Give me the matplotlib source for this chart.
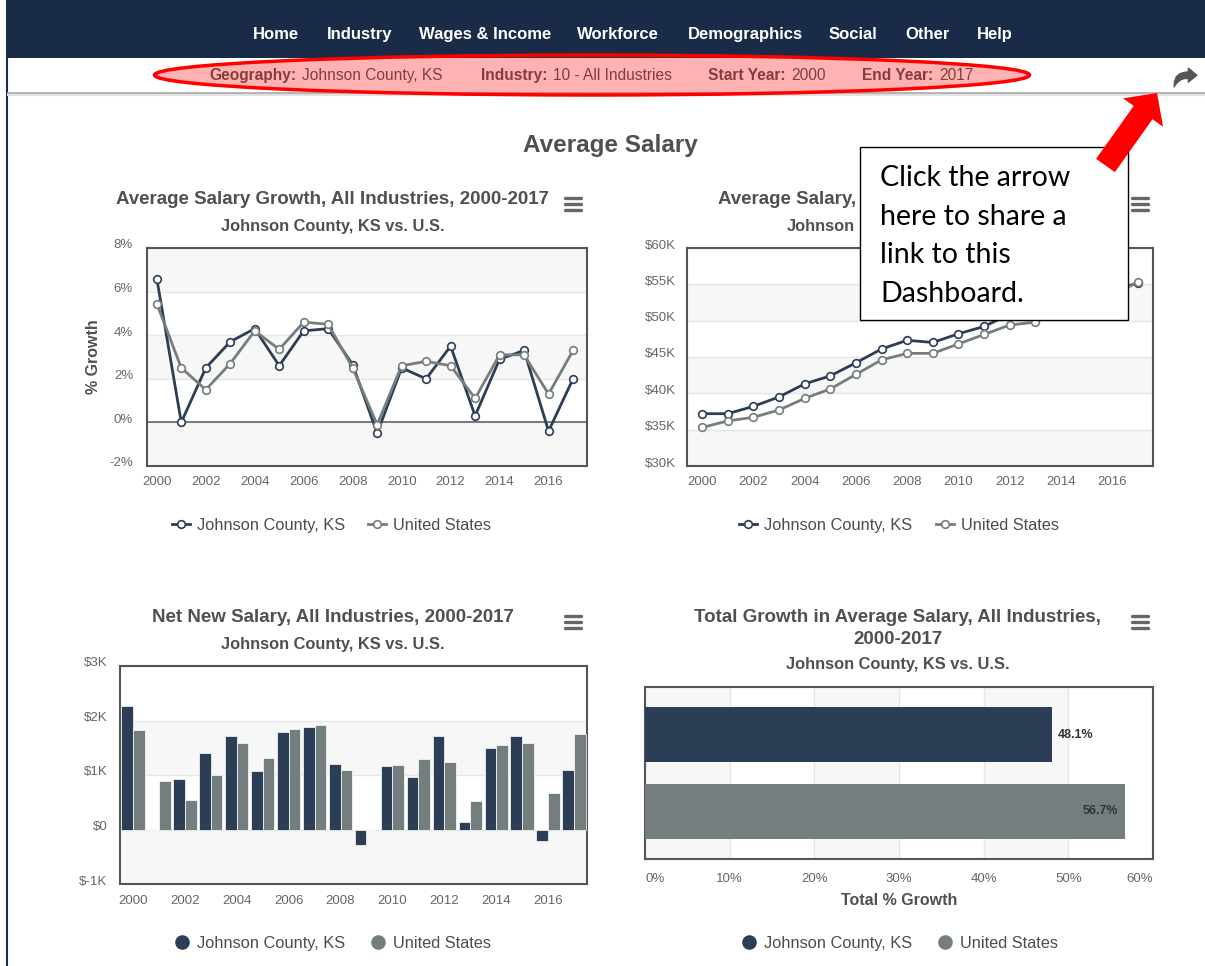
import matplotlib
matplotlib.use("Agg")
import matplotlib.pyplot as plt
import matplotlib.transforms as mtransforms
from matplotlib.lines import Line2D
from matplotlib.patches import Rectangle, Ellipse, FancyArrow, Polygon

plt.rcParams["font.family"] = ["Liberation Sans", "DejaVu Sans"]

W, H = 1205, 966

# ---- data ----
YEARS = list(range(2000, 2018))
GROWTH_JC = [6.6, 0.0, 2.5, 3.7, 4.3, 2.6, 4.2, 4.3, 2.65, -0.5, 2.5, 2.0, 3.5, 0.3, 2.9, 3.3, -0.4, 2.0]
GROWTH_US = [5.45, 2.5, 1.5, 2.7, 4.2, 3.35, 4.6, 4.5, 2.5, -0.1, 2.6, 2.8, 2.6, 1.1, 3.1, 3.1, 1.3, 3.3]
SALARY_JC = [37.2, 37.2, 38.2, 39.5, 41.3, 42.4, 44.2, 46.1, 47.3, 47.0, 48.2, 49.2, 50.9, 51.1, 52.6, 54.3, 54.1, 55.2]
SALARY_US = [35.3, 36.2, 36.7, 37.7, 39.3, 40.6, 42.6, 44.6, 45.5, 45.5, 46.8, 48.1, 49.4, 49.8, 51.3, 52.9, 53.6, 55.3]
NET_JC = [2.27, 0.0, 0.93, 1.40, 1.71, 1.08, 1.79, 1.88, 1.21, -0.28, 1.16, 0.97, 1.72, 0.13, 1.49, 1.72, -0.21, 1.10]
NET_US = [1.83, 0.89, 0.54, 1.00, 1.58, 1.31, 1.85, 1.92, 1.10, 0.0, 1.19, 1.30, 1.24, 0.53, 1.55, 1.58, 0.67, 1.75]
SERIES = ["Johnson County, KS", "United States"]
TOTAL_GROWTH = [48.1, 56.7]

NAV_ITEMS = ["Home", "Industry", "Wages & Income", "Workforce", "Demographics", "Social", "Other", "Help"]
FILTERS = [("Geography:", "Johnson County, KS"), ("Industry:", "10 - All Industries"),
           ("Start Year:", "2000"), ("End Year:", "2017")]
SUBTITLE = "Johnson County, KS vs. U.S."

C_JC = "#2c3e56"
C_US = "#757e7e"
BAND = "#f7f7f7"
GRID = "#e6e6e6"
TXT = "#505050"
TICK = "#666666"

# outline of the share icon, unit square (y down)
SHARE_ICON = [(1.0, 0.38), (0.62, 0.0), (0.62, 0.2), (0.45, 0.22), (0.25, 0.3), (0.1, 0.45),
              (0.02, 0.7), (0.0, 1.0), (0.12, 0.8), (0.3, 0.62), (0.45, 0.56), (0.62, 0.56), (0.62, 0.76)]


def _box(x0, y0, x1, y1):
    return [x0 / W, 1 - y1 / H, (x1 - x0) / W, (y1 - y0) / H]


def _frame(ax):
    for s in ax.spines.values():
        s.set_color("#555555")
        s.set_linewidth(1.5)
    ax.tick_params(length=0, labelsize=9.5, labelcolor=TICK)
    ax.set_axisbelow(True)


def _bands(ax, edges, vertical=False):
    # alternate grey / white bands, grey first
    for i in range(0, len(edges) - 1, 2):
        if vertical:
            ax.axvspan(edges[i], edges[i + 1], color=BAND, lw=0, zorder=0)
        else:
            ax.axhspan(edges[i], edges[i + 1], color=BAND, lw=0, zorder=0)


def _lift_ylabels(fig, ax):
    # highcharts puts y labels a little above their grid line (call after setting pad)
    off = mtransforms.ScaledTranslation(0, 0.04, fig.dpi_scale_trans)
    for lab in ax.get_yticklabels():
        lab.set_transform(lab.get_transform() + off)


def _hamburger(ov, x, y):
    for dy in (-6, 0, 6):
        ov.plot([x - 8, x + 8], [y + dy, y + dy], color="#666666", lw=2.4, solid_capstyle="round")


def _legend_line(ov, x, y, color, label):
    ov.add_line(Line2D([x - 9, x + 9], [y, y], color=color, lw=2))
    ov.plot([x], [y], marker="o", ms=5.5, mfc="white", mec=color, mew=1.2)
    ov.text(x + 16, y, label, fontsize=11.8, color="#4d4d4d", va="center_baseline", ha="left")


def _legend_dot(ov, x, y, color, label):
    ov.plot([x], [y], marker="o", ms=10.5, color=color, mew=0)
    ov.text(x + 15, y, label, fontsize=11.8, color="#4d4d4d", va="center_baseline", ha="left")


def _titles(ov, cx, lines, sub_y):
    for text, y in lines:
        ov.text(cx, y, text, fontsize=13.5, fontweight="bold", color=TXT, ha="center", va="center_baseline")
    ov.text(cx, sub_y, SUBTITLE, fontsize=11.8, fontweight="bold", color=TXT, ha="center",
            va="center_baseline")


def _line_chart(fig, rect, ys_jc, ys_us, ticks, labels, xlim, ypad):
    ax = fig.add_axes(rect)
    _bands(ax, ticks)
    ax.set_ylim(ticks[0], ticks[-1])
    ax.set_xlim(*xlim)
    ax.set_yticks(ticks, labels)
    ax.set_xticks(YEARS[::2])
    ax.grid(axis="y", color=GRID, lw=1, zorder=1)
    ax.plot(YEARS, ys_jc, color=C_JC, lw=2, marker="o", ms=5.5, mfc="white", mec=C_JC, mew=1.2, zorder=3)
    ax.plot(YEARS, ys_us, color=C_US, lw=2, marker="o", ms=5.5, mfc="white", mec=C_US, mew=1.2, zorder=4)
    _frame(ax)
    ax.tick_params(axis="x", pad=7)
    ax.tick_params(axis="y", pad=ypad)
    _lift_ylabels(fig, ax)
    return ax


def main():
    fig = plt.figure(figsize=(W / 100, H / 100), dpi=100)
    fig.patch.set_facecolor("white")

    # 1. growth line chart
    yt1 = [-2, 0, 2, 4, 6, 8]
    ax1 = _line_chart(fig, _box(147, 248, 587, 466), GROWTH_JC, GROWTH_US, yt1,
                      [f"{v}%" for v in yt1], (1999.6, 2017.57), 10)
    ax1.axhline(0, color="#666666", lw=1.2, zorder=1)
    ax1.set_ylabel("% Growth", fontsize=11.5, fontweight="bold", color=TXT, labelpad=6)

    # 2. salary line chart
    yt2 = [30, 35, 40, 45, 50, 55, 60]
    _line_chart(fig, _box(687, 248, 1153, 466), SALARY_JC, SALARY_US, yt2,
                [f"${v}K" for v in yt2], (1999.415, 2017.585), 8)

    # 3. net new salary columns
    ax3 = fig.add_axes(_box(120, 666, 587, 884))
    yt3 = [-1, 0, 1, 2, 3]
    _bands(ax3, yt3)
    ax3.set_ylim(-1, 3)
    ax3.set_xlim(1999.5, 2017.5)
    ax3.set_yticks(yt3, ["$-1K", "$0", "$1K", "$2K", "$3K"])
    ax3.set_xticks(YEARS[::2])
    ax3.grid(axis="y", color=GRID, lw=1, zorder=1)
    ax3.bar([y - 0.225 for y in YEARS], NET_JC, width=0.45, color=C_JC, edgecolor="white", lw=0.5, zorder=3)
    ax3.bar([y + 0.225 for y in YEARS], NET_US, width=0.45, color=C_US, edgecolor="white", lw=0.5, zorder=3)
    _frame(ax3)
    ax3.tick_params(axis="y", pad=9)
    ax3.tick_params(axis="x", pad=8)
    _lift_ylabels(fig, ax3)

    # 4. total growth horizontal bars
    ax4 = fig.add_axes(_box(645, 687, 1153, 859))
    xt4 = [0, 10, 20, 30, 40, 50, 60]
    _bands(ax4, xt4, vertical=True)
    ax4.set_xlim(0, 60)
    ax4.set_ylim(1.617, -0.617)
    ax4.set_xticks(xt4, [f"{v}%" for v in xt4])
    ax4.set_yticks([])
    ax4.grid(axis="x", color=GRID, lw=1, zorder=1)
    ax4.barh(range(len(SERIES)), TOTAL_GROWTH, height=0.714, color=[C_JC, C_US], zorder=3)
    for i, v in enumerate(TOTAL_GROWTH):
        inside = v > 53
        ax4.annotate(f"{v}%", (v, i), xytext=(-5 if inside else 4, 0), textcoords="offset points",
                     ha="right" if inside else "left", va="center", fontsize=9,
                     fontweight="bold", color="#333333", zorder=5)
    _frame(ax4)
    ax4.tick_params(axis="x", pad=10)
    ax4.set_xlabel("Total % Growth", fontsize=11.5, fontweight="bold", color=TXT, labelpad=6)
    labs = ax4.get_xticklabels()
    labs[0].set_ha("left")
    labs[-1].set_ha("right")

    # ---- page chrome drawn in an overlay in pixel units ----
    ov = fig.add_axes([0, 0, 1, 1], zorder=10)
    ov.set_xlim(0, W)
    ov.set_ylim(H, 0)
    ov.axis("off")
    ov.patch.set_alpha(0)

    ov.add_patch(Rectangle((8, 0), W - 8, 58, fc="#1a2b47", ec="none"))
    ov.plot([7, 7], [0, H], color="#1a2b47", lw=1.5)
    for name, cx in zip(NAV_ITEMS, [276, 360, 485, 618, 745, 853, 928, 995]):
        ov.text(cx, 33, name, color="white", fontsize=12, fontweight="bold", ha="center",
                va="center_baseline")

    for (lab, val), lx in zip(FILTERS, [209, 481, 708, 862]):
        t = ov.text(lx, 74, lab, fontsize=11.2, fontweight="bold", color="#555555", ha="left",
                    va="center_baseline")
        ov.annotate(val, xy=(1, 0), xycoords=t, xytext=(4, 0), textcoords="offset points",
                    fontsize=11.2, color="#555555", ha="left", va="bottom")
    ov.add_patch(Ellipse((592, 75), 875, 40, fc=(1, 0, 0, 0.3), ec="red", lw=2.5, zorder=5))
    ov.plot([8, W], [93, 93], color="#b0b0b0", lw=2)
    ov.plot([8, W], [95, 95], color="#e2e2e2", lw=1.5)
    # share icon
    ix, iy, iw, ih = 1174, 68, 23, 19
    ov.add_patch(Polygon([(ix + u * iw, iy + v * ih) for u, v in SHARE_ICON], closed=True,
                         fc="#555555", ec="#555555", lw=0.8, joinstyle="round"))

    ov.text(610, 143, "Average Salary", fontsize=17.5, fontweight="bold", color=TXT, ha="center",
            va="center_baseline")

    _titles(ov, 333, [("Average Salary Growth, All Industries, 2000-2017", 198)], 225)
    # top-right title: only the part left of the callout box is visible
    ov.text(718, 198, "Average Salary,", fontsize=13.5, fontweight="bold", color=TXT, ha="left",
            va="center_baseline")
    ov.text(787, 225, "Johnson", fontsize=11.8, fontweight="bold", color=TXT, ha="left",
            va="center_baseline")
    _titles(ov, 333, [("Net New Salary, All Industries, 2000-2017", 616)], 643)
    _titles(ov, 898, [("Total Growth in Average Salary, All Industries,", 616), ("2000-2017", 637)], 663)
    for hx, hy in [(573, 204), (1140, 204), (573, 622), (1140, 622)]:
        _hamburger(ov, hx, hy)

    _legend_line(ov, 181, 524, C_JC, SERIES[0])
    _legend_line(ov, 377, 524, C_US, SERIES[1])
    _legend_line(ov, 748, 524, C_JC, SERIES[0])
    _legend_line(ov, 945, 524, C_US, SERIES[1])
    _legend_dot(ov, 182, 942, C_JC, SERIES[0])
    _legend_dot(ov, 378, 942, C_US, SERIES[1])
    _legend_dot(ov, 749, 942, C_JC, SERIES[0])
    _legend_dot(ov, 945, 942, C_US, SERIES[1])

    # callout box and the red arrow pointing at the share icon
    ov.add_patch(Rectangle((860, 147), 268, 173, fc="white", ec="black", lw=1, zorder=20))
    ov.text(880, 236, "Click the arrow\nhere to share a\nlink to this\nDashboard.", family=["Lato"],
            fontsize=20.5, color="black", ha="left", va="center", linespacing=1.6, zorder=21)
    ov.add_patch(FancyArrow(1105.5, 165.5, 51.5, -72.5, width=23, head_width=49, head_length=24,
                            length_includes_head=True, color="red", lw=0, zorder=22))

    fig.savefig("out.png", dpi=100)
    plt.close(fig)


if __name__ == "__main__":
    main()
